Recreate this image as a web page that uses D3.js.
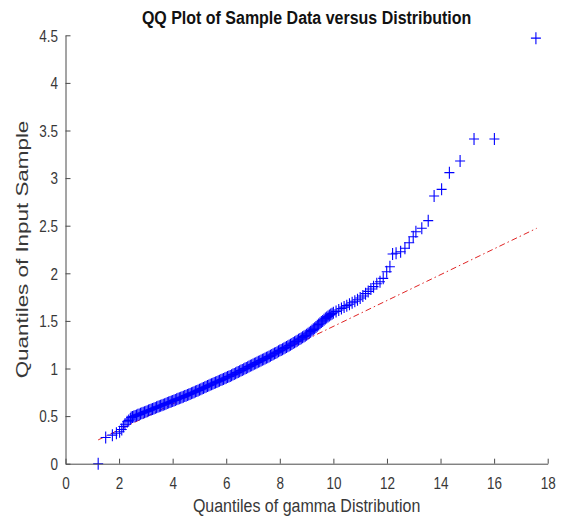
<!DOCTYPE html>
<html>
<head>
<meta charset="utf-8">
<script src="https://cdn.jsdelivr.net/npm/d3@7"></script>
<style>
  html, body { margin: 0; padding: 0; background: #fff; }
  svg { display: block; }
  text { font-family: "Liberation Sans", Arial, Helvetica, sans-serif; }
</style>
</head>
<body>
<svg id="chart" width="569" height="519"></svg>
<script>
// ---- data ----
const title = "QQ Plot of Sample Data versus Distribution";
const xLabel = "Quantiles of gamma Distribution";
const yLabel = "Quantiles of Input Sample";
const xTicks = [0, 2, 4, 6, 8, 10, 12, 14, 16, 18];
const yTicks = [0, 0.5, 1, 1.5, 2, 2.5, 3, 3.5, 4, 4.5];

// theoretical (gamma) quantiles
const qx = [
  1.22, 1.50, 1.75, 1.90, 2.02, 2.10, 2.16, 2.22, 2.30, 2.36, 2.42,
  2.45, 2.50, 2.55, 2.60, 2.65, 2.70, 2.75, 2.80, 2.85, 2.90, 2.95,
  3.00, 3.05, 3.10, 3.15, 3.20, 3.25, 3.30, 3.35, 3.40, 3.45,
  3.50, 3.55, 3.60, 3.65, 3.70, 3.75, 3.80, 3.85, 3.90, 3.95,
  4.00, 4.05, 4.10, 4.15, 4.20, 4.25, 4.30, 4.35, 4.40, 4.45,
  4.50, 4.55, 4.60, 4.65, 4.70, 4.75, 4.80, 4.85, 4.90, 4.95,
  5.00, 5.05, 5.10, 5.15, 5.20, 5.25, 5.30, 5.35, 5.40, 5.45,
  5.50, 5.55, 5.60, 5.65, 5.70, 5.75, 5.80, 5.85, 5.90, 5.95,
  6.00, 6.05, 6.10, 6.15, 6.20, 6.25, 6.30, 6.35, 6.40, 6.45,
  6.50, 6.55, 6.60, 6.65, 6.70, 6.75, 6.80, 6.85, 6.90, 6.95,
  7.00, 7.05, 7.10, 7.15, 7.20, 7.25, 7.30, 7.35, 7.40, 7.45,
  7.50, 7.55, 7.60, 7.65, 7.70, 7.75, 7.80, 7.85, 7.90, 7.95,
  8.00, 8.05, 8.10, 8.15, 8.20, 8.25, 8.30, 8.35, 8.40, 8.45,
  8.50, 8.55, 8.60, 8.65, 8.70, 8.75, 8.80, 8.85, 8.90, 8.95,
  9.00, 9.05, 9.10, 9.15, 9.20, 9.25, 9.30, 9.35, 9.40, 9.45,
  9.50, 9.55, 9.60, 9.65, 9.70, 9.75, 9.80, 9.85, 9.90, 9.95,
  10.0, 10.1, 10.2, 10.3, 10.4, 10.5, 10.6, 10.7, 10.8, 10.9,
  11.0, 11.1, 11.2, 11.3, 11.4, 11.5, 11.62,
  11.74, 11.86, 11.99, 12.11, 12.21, 12.34, 12.51, 12.67, 12.83, 12.98, 13.08,
  13.30, 13.54, 13.76, 14.04, 14.33, 14.73, 15.25, 16.01, 17.56
];
// sample quantiles
const qy = [
  0.000, 0.275, 0.300, 0.320, 0.335, 0.360, 0.390, 0.415, 0.440, 0.455, 0.470,
  0.485, 0.490, 0.496, 0.502, 0.507, 0.513, 0.518, 0.524, 0.530, 0.535, 0.541,
  0.547, 0.552, 0.558, 0.563, 0.569, 0.575, 0.580, 0.586, 0.592, 0.597,
  0.603, 0.608, 0.614, 0.620, 0.625, 0.631, 0.637, 0.642, 0.648, 0.653,
  0.659, 0.665, 0.670, 0.676, 0.682, 0.687, 0.693, 0.698, 0.704, 0.710,
  0.715, 0.721, 0.727, 0.733, 0.739, 0.745, 0.751, 0.758, 0.764, 0.770,
  0.777, 0.783, 0.789, 0.796, 0.802, 0.808, 0.815, 0.821, 0.828, 0.834,
  0.840, 0.847, 0.853, 0.859, 0.866, 0.872, 0.878, 0.885, 0.891, 0.897,
  0.903, 0.910, 0.916, 0.922, 0.929, 0.936, 0.943, 0.950, 0.957, 0.964,
  0.971, 0.978, 0.985, 0.992, 0.999, 1.006, 1.014, 1.021, 1.028, 1.035,
  1.042, 1.049, 1.056, 1.063, 1.070, 1.077, 1.084, 1.091, 1.098, 1.105,
  1.112, 1.119, 1.126, 1.133, 1.141, 1.149, 1.157, 1.164, 1.172, 1.180,
  1.188, 1.195, 1.203, 1.211, 1.219, 1.226, 1.234, 1.242, 1.250, 1.258,
  1.267, 1.275, 1.284, 1.292, 1.301, 1.309, 1.318, 1.327, 1.336, 1.345,
  1.355, 1.365, 1.376, 1.387, 1.399, 1.411, 1.423, 1.436, 1.449, 1.462,
  1.475, 1.488, 1.500, 1.512, 1.524, 1.535, 1.546, 1.556, 1.566, 1.576,
  1.585, 1.600, 1.615, 1.630, 1.645, 1.660, 1.675, 1.690, 1.706, 1.722,
  1.740, 1.762, 1.786, 1.810, 1.835, 1.860, 1.890,
  1.912, 1.947, 2.017, 2.069, 2.203, 2.210, 2.227, 2.263, 2.321, 2.384, 2.437,
  2.473, 2.553, 2.812, 2.882, 3.057, 3.180, 3.411, 3.411, 4.470
];
// reference line (through quartiles), end points
const lineX = [1.22, 17.59];
const lineY = [0.250, 2.473];

// ---- drawing ----
const svg = d3.select("#chart");
const mLeft = 65.5, mRight = 547.7, mTop = 35.3, mBottom = 463.7;
const x = d3.scaleLinear().domain([0, 18]).range([mLeft, mRight]);
const y = d3.scaleLinear().domain([0, 4.5]).range([mBottom, mTop]);
const axisColor = "#4a4a4a";
const textColor = "#383838";
const font = '"Liberation Sans", Arial, Helvetica, sans-serif';

// reference line (under markers)
const lineData = lineX.map((v, i) => [v, lineY[i]]);
svg.append("path")
  .datum(lineData)
  .attr("d", d3.line().x(d => x(d[0])).y(d => y(d[1])))
  .attr("fill", "none")
  .attr("stroke", "#e02424")
  .attr("stroke-width", 1)
  .attr("stroke-dasharray", "6,3,1.5,3");

// markers
const pts = qx.map((v, i) => [v, qy[i]]);
svg.append("g")
  .selectAll("path")
  .data(pts)
  .join("path")
  .attr("transform", d => `translate(${x(d[0])},${y(d[1])})`)
  .attr("d", "M-5,0H5M0,-6V6")
  .attr("fill", "none")
  .attr("stroke", "#0000ff")
  .attr("stroke-width", 1.1);

// axes
const xAxis = d3.axisBottom(x).tickValues(xTicks).tickFormat(d3.format("d"))
  .tickSizeInner(-5).tickSizeOuter(0);
const gx = svg.append("g").attr("transform", `translate(0,${mBottom})`).call(xAxis);
const yAxis = d3.axisLeft(y).tickValues(yTicks).tickFormat(d => String(d))
  .tickSizeInner(-5).tickSizeOuter(0);
const gy = svg.append("g").attr("transform", `translate(${mLeft},0)`).call(yAxis);

[gx, gy].forEach(g => {
  g.select(".domain").attr("stroke", axisColor);
  g.selectAll(".tick line").attr("stroke", axisColor);
  g.selectAll(".tick text")
    .attr("fill", textColor)
    .style("font-size", "13.5px")
    .style("font-family", font);
});
// tick labels are slightly taller than wide in the reference
gx.selectAll(".tick text")
  .attr("y", 0).attr("dy", 0)
  .attr("transform", "translate(0,25) scale(1,1.2)");
gy.selectAll(".tick text")
  .attr("x", 0).attr("dy", "0.36em")
  .attr("transform", "translate(-7.5,0) scale(1,1.2)");

// title
svg.append("text")
  .attr("transform", `translate(${(mLeft + mRight) / 2},24) scale(1,1.1)`)
  .attr("text-anchor", "middle")
  .style("font-size", "16px").style("font-weight", "bold")
  .attr("fill", "#111")
  .text(title);

// x label
svg.append("text")
  .attr("transform", `translate(${(mLeft + mRight) / 2},512) scale(1,1.1)`)
  .attr("text-anchor", "middle")
  .style("font-size", "16px")
  .attr("fill", textColor)
  .text(xLabel);

// y label
svg.append("text")
  .attr("transform", `translate(28,${(mTop + mBottom) / 2}) rotate(-90) scale(1.4,1)`)
  .attr("text-anchor", "middle")
  .style("font-size", "16px")
  .attr("fill", textColor)
  .text(yLabel);
</script>
</body>
</html>
